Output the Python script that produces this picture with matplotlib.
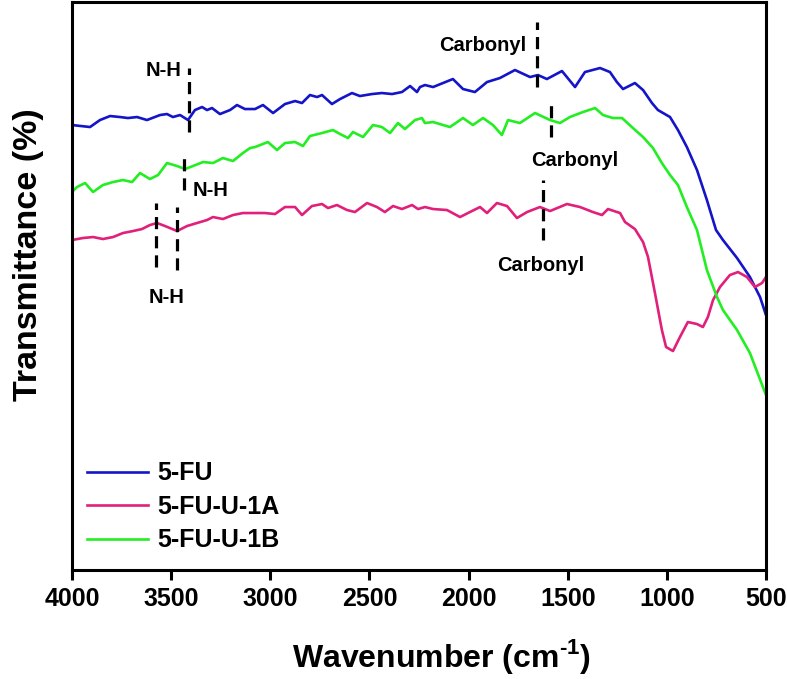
import numpy as np
import matplotlib
matplotlib.use("Agg")
import matplotlib.pyplot as plt

plt.rcParams['font.family'] = ['Liberation Sans', 'DejaVu Sans']
plt.rcParams['font.weight'] = 'bold'
plt.rcParams['mathtext.fontset'] = 'custom'
plt.rcParams['mathtext.rm'] = 'Liberation Sans:bold'
plt.rcParams['mathtext.bf'] = 'Liberation Sans:bold'

# FTIR spectra, transmittance in arbitrary units (offset curves)
wn_fu = [4000, 3909, 3859, 3808, 3758, 3718, 3672, 3622, 3556, 3521, 3491, 3455,
         3415, 3380, 3344, 3319, 3294, 3254, 3203, 3168, 3128, 3077, 3037, 2986,
         2926, 2875, 2840, 2800, 2764, 2739, 2689, 2648, 2588, 2548, 2487, 2437,
         2386, 2336, 2295, 2260, 2245, 2220, 2179, 2129, 2079, 2028, 1968, 1907,
         1842, 1766, 1690, 1650, 1605, 1529, 1463, 1413, 1337, 1287, 1252, 1221,
         1161, 1120, 1075, 1045, 984, 944, 899, 848, 798, 752, 717, 646, 581,
         530, 500]
t_fu = [445, 443, 450, 454, 453, 452, 453, 450, 455, 456, 453, 455,
        450, 460, 463, 460, 462, 456, 460, 465, 461, 461, 465, 457,
        466, 469, 467, 475, 473, 475, 466, 471, 477, 474, 476, 477,
        476, 478, 484, 478, 483, 485, 483, 487, 491, 481, 478, 488,
        492, 500, 493, 495, 491, 499, 483, 498, 502, 498, 488, 481,
        487, 480, 467, 460, 453, 440, 423, 400, 370, 340, 330, 312, 293,
        273, 255]

wn_1a = [4000, 3945, 3894, 3844, 3793, 3743, 3692, 3647, 3607, 3571, 3531, 3470,
         3420, 3370, 3319, 3289, 3239, 3188, 3138, 3077, 3027, 2976, 2926, 2875,
         2840, 2790, 2739, 2709, 2664, 2613, 2573, 2512, 2462, 2422, 2381, 2336,
         2285, 2255, 2220, 2179, 2109, 2043, 1993, 1942, 1907, 1857, 1806, 1756,
         1705, 1640, 1589, 1504, 1438, 1373, 1327, 1297, 1236, 1211, 1161, 1120,
         1095, 1060, 1025, 1004, 969, 934, 894, 848, 818, 793, 767, 732, 682,
         641, 596, 556, 520, 500]
t_1a = [330, 332, 333, 331, 333, 337, 339, 341, 345, 347, 344, 339,
        344, 347, 350, 353, 351, 355, 357, 357, 357, 356, 363, 363,
        355, 364, 366, 362, 365, 360, 358, 367, 363, 358, 364, 361,
        365, 361, 363, 361, 360, 353, 358, 363, 357, 367, 364, 352,
        358, 363, 359, 366, 363, 358, 355, 361, 357, 348, 341, 328,
        313, 277, 240, 223, 219, 233, 248, 246, 243, 253, 270, 283, 295,
        298, 293, 283, 287, 293]

wn_1b = [4000, 3975, 3934, 3894, 3844, 3793, 3743, 3697, 3657, 3607, 3566, 3521,
         3470, 3430, 3390, 3339, 3289, 3239, 3188, 3138, 3102, 3077, 3012, 2966,
         2926, 2875, 2835, 2800, 2739, 2684, 2648, 2608, 2583, 2532, 2482, 2437,
         2396, 2356, 2321, 2270, 2235, 2220, 2179, 2094, 2028, 1978, 1927, 1877,
         1832, 1801, 1741, 1665, 1589, 1539, 1489, 1423, 1362, 1322, 1272, 1226,
         1171, 1120, 1070, 1025, 984, 944, 899, 848, 798, 747, 717, 646, 581, 500]
t_1b = [378, 383, 387, 378, 385, 388, 390, 388, 397, 391, 395, 407,
        404, 401, 404, 408, 407, 412, 409, 417, 422, 423, 428, 420,
        427, 428, 424, 434, 437, 440, 436, 432, 438, 433, 445, 443,
        437, 447, 441, 450, 452, 447, 448, 443, 452, 445, 452, 445,
        435, 450, 447, 457, 450, 447, 453, 458, 462, 455, 452, 452,
        442, 433, 422, 407, 395, 385, 363, 340, 300, 273, 260, 240, 217, 175]

labels = ['5-FU', '5-FU-U-1A', '5-FU-U-1B']
colors = ['#1414c8', '#e0207a', '#22ee22']

# peak markers: (wavenumber, y from, y to, label, label x, label y, ha)
marks = [
    (3410, 438, 502, 'N-H', 3450, 500, 'right'),
    (3435, 380, 418, 'N-H', 3390, 380, 'left'),
    (3576, 303, 367, None, 0, 0, 'center'),
    (3470, 300, 363, 'N-H', 3525, 273, 'center'),
    (1655, 483, 548, 'Carbonyl', 1710, 525, 'right'),
    (1584, 433, 468, 'Carbonyl', 1463, 410, 'center'),
    (1625, 330, 390, 'Carbonyl', 1635, 305, 'center'),
]

fig = plt.figure(figsize=(7.87, 6.79), dpi=100)
ax = fig.add_axes([0.0915, 0.1605, 0.8818, 0.8365])

for wn, t, lab, c in zip([wn_fu, wn_1a, wn_1b], [t_fu, t_1a, t_1b], labels, colors):
    ax.plot(wn, t, color=c, lw=1.9, label=lab)

for x, y0, y1, txt, tx, ty, ha in marks:
    ax.vlines(x, y0, y1, colors='black', lw=2.3, linestyles=(0, (3.8, 2.2)))
    if txt:
        ax.text(tx, ty, txt, ha=ha, va='center', fontsize=14.5, fontweight='bold')

ax.set_xlim(4000, 500)
ax.set_ylim(0, 568)
ax.set_xticks([4000, 3500, 3000, 2500, 2000, 1500, 1000, 500])
ax.set_yticks([])
ax.tick_params(axis='x', direction='out', length=7, width=2.2, pad=5, labelsize=18)
for s in ax.spines.values():
    s.set_linewidth(2.2)

ax.set_xlabel(r'Wavenumber (cm$^{\text{-1}}$)', fontsize=23, fontweight='bold')
ax.xaxis.set_label_coords(0.532, -0.118)
ax.set_ylabel('Transmittance (%)', fontsize=24.5, fontweight='bold')
ax.yaxis.set_label_coords(-0.040, 0.556)

ax.legend(loc='center left', bbox_to_anchor=(0.0216, 0.111), frameon=False,
          fontsize=18, handlelength=2.45, handletextpad=0.36, labelspacing=0.38,
          borderpad=0, borderaxespad=0)

fig.savefig('out.png', dpi=100)
